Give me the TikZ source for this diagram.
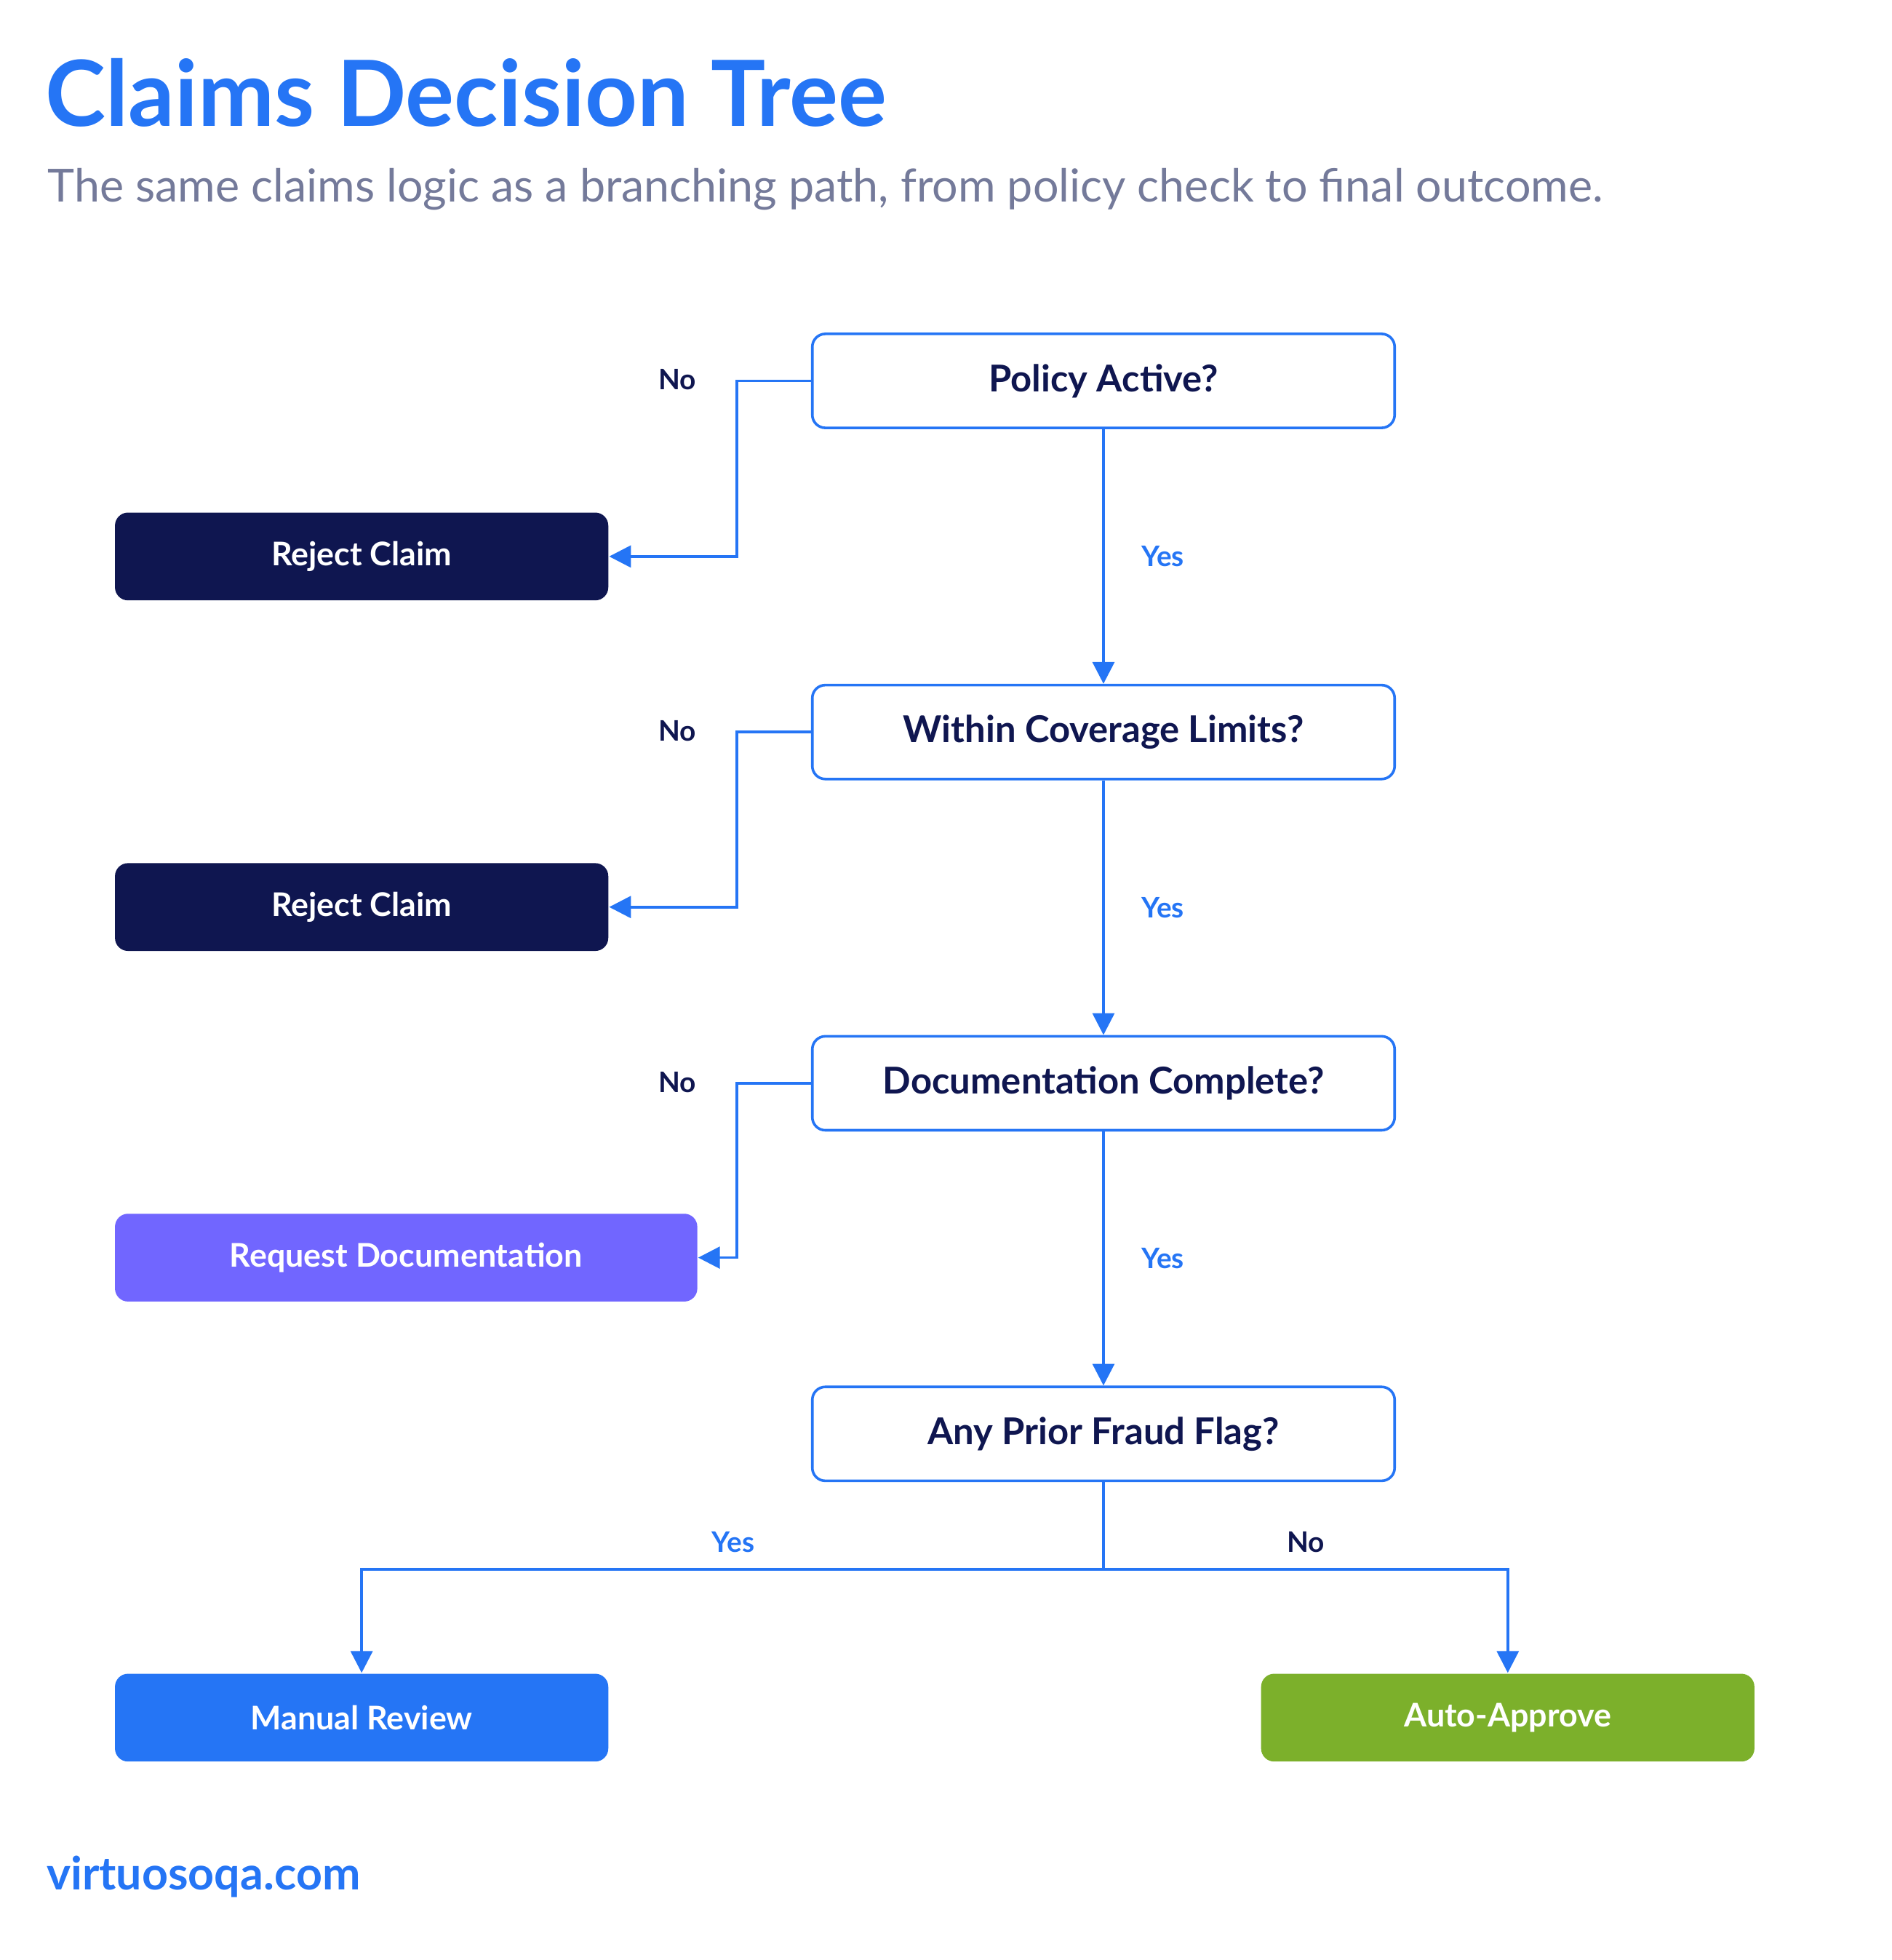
\documentclass[tikz,border=0pt]{standalone}
\usepackage{fontspec}
\setmainfont{Lato}
\usetikzlibrary{arrows.meta,positioning}
\definecolor{brand}{HTML}{2575F5}
\definecolor{navy}{HTML}{0F1650}
\definecolor{violet}{HTML}{7166FF}
\definecolor{leaf}{HTML}{7CB02B}
\definecolor{muted}{HTML}{747A9A}
\tikzset{
  question/.style={draw=brand, line width=0.6pt, fill=white, rounded corners=3pt,
    minimum width=4.71cm, minimum height=0.76cm, font=\fontsize{8.5}{10}\selectfont\bfseries, text=navy},
  outcome/.style={rounded corners=3pt, minimum width=3.99cm, minimum height=0.71cm,
    font=\fontsize{7.5}{9}\selectfont\bfseries, text=white},
  link/.style={draw=brand, line width=0.6pt, -{Triangle[length=5pt,width=5pt]}},
  nolabel/.style={font=\fontsize{6.5}{8}\selectfont\bfseries, text=navy},
  yeslabel/.style={font=\fontsize{6.5}{8}\selectfont\bfseries, text=brand}
}
\begin{document}
\begin{tikzpicture}
\useasboundingbox (0,0) rectangle (15.3,-15.85);
% ------ header --------
\node[anchor=base west, inner sep=0, text=brand, font=\fontsize{21}{24}\selectfont\bfseries] (title) at (0.36,-1.02) {Claims Decision Tree};
\node[anchor=base west, inner sep=0, text=muted, font=\fontsize{10.5}{12}\selectfont] (subtitle) at (0.38,-1.63) {The same claims logic as a branching path, from policy check to final outcome.};
% ------ questions --------
\node[question] (policy) at (8.925,-3.08) {Policy Active?};
\node[question] (limits) at (8.925,-5.92) {Within Coverage Limits?};
\node[question] (docs) at (8.925,-8.76) {Documentation Complete?};
\node[question] (fraud) at (8.925,-11.595) {Any Prior Fraud Flag?};
% ------ outcomes --------
\node[outcome, fill=navy] (reject1) at (2.925,-4.5) {Reject Claim};
\node[outcome, fill=navy] (reject2) at (2.925,-7.335) {Reject Claim};
\node[outcome, fill=violet, minimum width=4.71cm] (request) at (3.285,-10.17) {Request Documentation};
\node[outcome, fill=brand] (manual) at (2.925,-13.89) {Manual Review};
\node[outcome, fill=leaf] (approve) at (12.195,-13.89) {Auto-Approve};
% ------ yes branches --------
\draw[link] (policy) -- (limits) node[midway, right=0.18cm, yeslabel] (yes1) {Yes};
\draw[link] (limits) -- (docs) node[midway, right=0.18cm, yeslabel] (yes2) {Yes};
\draw[link] (docs) -- (fraud) node[midway, right=0.18cm, yeslabel] (yes3) {Yes};
% ------ no branches --------
\draw[link] (policy.west) -- ++(-0.6,0) |- (reject1.east);
\draw[link] (limits.west) -- ++(-0.6,0) |- (reject2.east);
\draw[link] (docs.west) -- ++(-0.6,0) |- (request.east);
\node[nolabel] (no1) at (5.48,-3.07) {No};
\node[nolabel] (no2) at (5.48,-5.91) {No};
\node[nolabel] (no3) at (5.48,-8.75) {No};
% ------ fraud split --------
\coordinate (split) at (8.925,-12.69);
\draw[link] (fraud.south) -- (split) -| (manual.north);
\draw[link] (split) -| (approve.north);
\node[yeslabel] (yes4) at (5.93,-12.47) {Yes};
\node[nolabel] (no4) at (10.56,-12.47) {No};
% ------ footer --------
\node[anchor=base west, inner sep=0, text=brand, font=\fontsize{10.5}{12}\selectfont\bfseries] (site) at (0.37,-15.28) {virtuosoqa.com};
\end{tikzpicture}
\end{document}
